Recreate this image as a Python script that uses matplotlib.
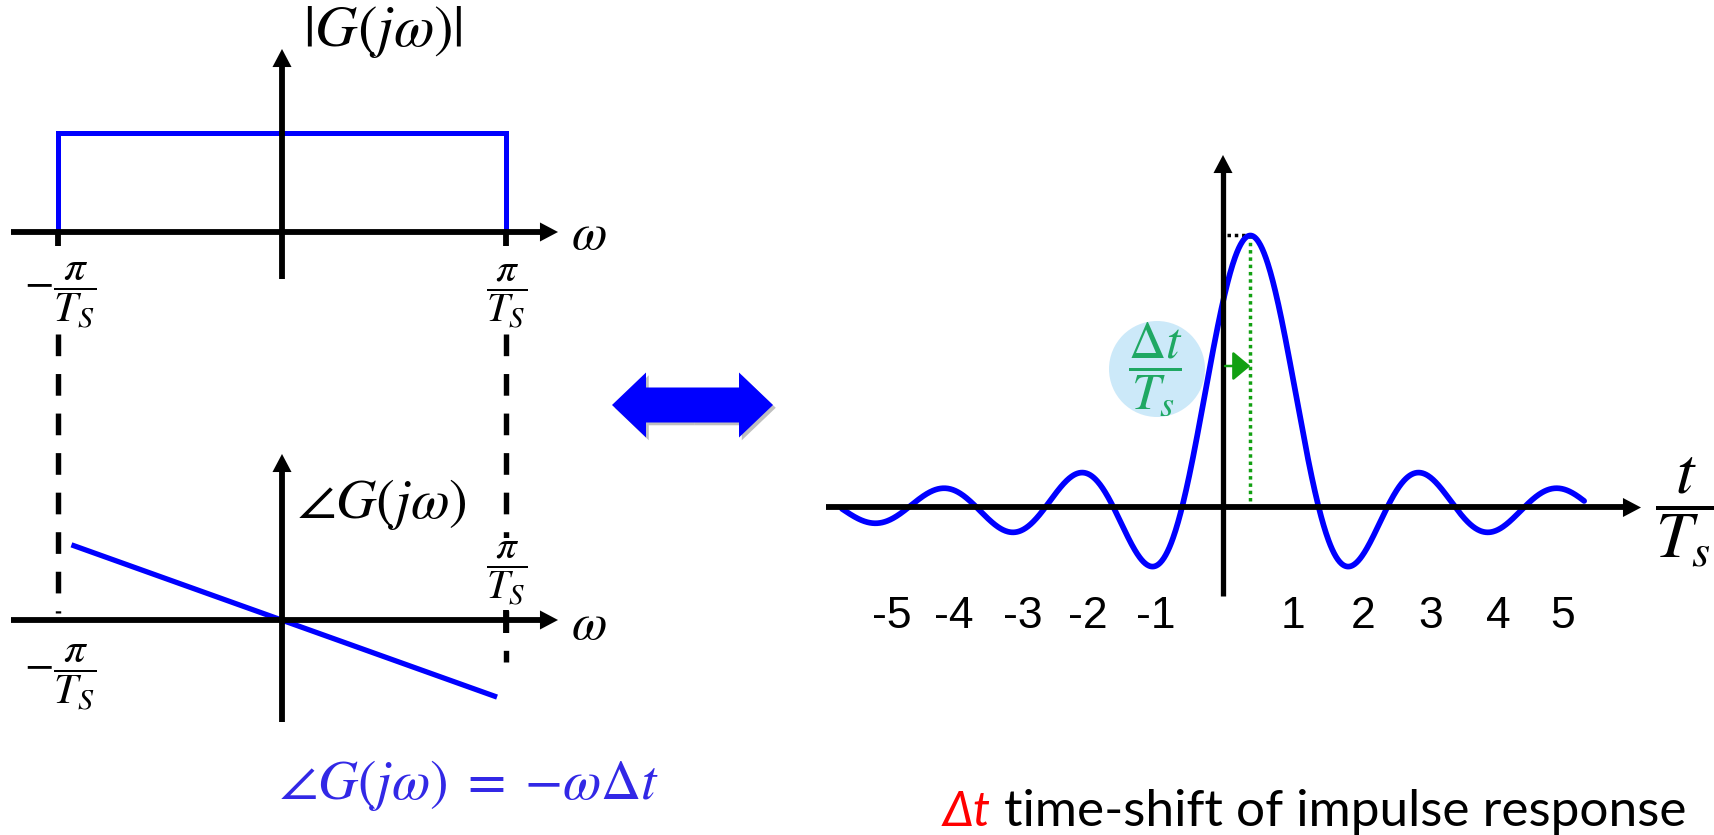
import numpy as np
import matplotlib
matplotlib.use('Agg')
import matplotlib.pyplot as plt
from matplotlib.patches import Ellipse, FancyArrow
import matplotlib.patheffects as pe

plt.rcParams['mathtext.fontset'] = 'stix'
plt.rcParams['font.family'] = ['Liberation Sans', 'DejaVu Sans']

# ---------------- data ----------------
band_edges = [-1.0, 1.0]          # passband edges, omega in units of pi/Ts
mag_level = 1.0                   # |G(jw)| inside the passband
phase_omega = [-0.94, 0.96]       # omega at the two ends of the phase line (pi/Ts)
phase_value = [1.18, -1.21]       # phase (rad) at those ends
delay = 0.4                       # time shift  Δt / Ts
t_start, t_end = -5.57, 5.28      # drawn extent of the impulse response (t/Ts)
tick_values = [-4.84, -3.93, -2.92, -1.97, -0.98, 1.02, 2.05, 3.04, 4.03, 4.96]
tick_labels = ['-5', '-4', '-3', '-2', '-1', '1', '2', '3', '4', '5']

BLUE = '#0000ff'
FBLUE = '#3228e6'
GREEN = '#12a012'
TGREEN = '#1fa863'

W, H, DPI = 1715, 835, 100
fig = plt.figure(figsize=(W / DPI, H / DPI), dpi=DPI)
fig.patch.set_facecolor('white')


def make_axes(box, xref, yref, z=1):
    l, t, r, b = box
    ax = fig.add_axes([l / W, 1 - b / H, (r - l) / W, (b - t) / H], zorder=z)
    d0, p0, d1, p1 = xref
    sx = (d1 - d0) / (p1 - p0)
    ax.set_xlim(d0 + (l - p0) * sx, d0 + (r - p0) * sx)
    d0, p0, d1, p1 = yref
    sy = (d1 - d0) / (p1 - p0)
    ax.set_ylim(d0 + (b - p0) * sy, d0 + (t - p0) * sy)
    ax.axis('off')
    ax.patch.set_visible(False)
    return ax


def axis_arrow(ax, start, tip, lw=4.2, head_len=18, head_w=19, color='k'):
    trans = ax.transData
    s = np.array(trans.transform(start))
    e = np.array(trans.transform(tip))
    d = (e - s) / np.linalg.norm(e - s)
    base = trans.inverted().transform(e - d * (head_len - 1))
    ax.plot([start[0], base[0]], [start[1], base[1]], color=color, lw=lw,
            solid_capstyle='butt', zorder=5, clip_on=False)
    ms = 10.0
    ax.annotate('', xy=tip, xytext=start,
                arrowprops=dict(arrowstyle='-|>,head_length=%.3f,head_width=%.3f'
                                % (head_len * 72 / DPI / ms, head_w / 2 * 72 / DPI / ms),
                                mutation_scale=ms, lw=0.01, fc=color, ec=color,
                                shrinkA=0, shrinkB=0), zorder=5)


def fit_width(txt, target, extra=1.0):
    r = fig.canvas.get_renderer()
    for _ in range(3):
        w = txt.get_window_extent(r).width
        txt.set_fontsize(txt.get_fontsize() * target / w)
    txt.set_fontsize(txt.get_fontsize() * extra)


# ---------------- top-left: magnitude ----------------
X0, XU = 282.0, 224.0            # pixel of omega=0 and pixels per pi/Ts
ax1 = make_axes((0, 0, 640, 320), (0, X0, 1, X0 + XU), (0, 232, 1, 133))
ax1.plot([band_edges[0], band_edges[0], band_edges[1], band_edges[1]],
         [0, mag_level, mag_level, 0], color=BLUE, lw=3.6, zorder=3,
         solid_joinstyle='miter')
axis_arrow(ax1, ((11 - X0) / XU, 0), ((558 - X0) / XU, 0))
axis_arrow(ax1, (0, (232 - 279) / 99), (0, (232 - 49) / 99))
for e in band_edges:
    ax1.plot([e, e], [0, -14 / 99], color='k', lw=4.2, solid_capstyle='butt', zorder=5)
t = ax1.text((303 - X0) / XU, (232 - 32) / 99, r'$|G(j\omega)|$', fontsize=30,
             ha='left', va='center')
fit_width(t, 160)
ax1.text((571 - X0) / XU, (232 - 236) / 99, r'$\omega$', fontsize=37, ha='left', va='center')
t = ax1.text((60 - X0) / XU, (232 - 296) / 99, r'$-\dfrac{\pi}{T_S}$', fontsize=24,
             ha='center', va='center')
fit_width(t, 63, 1.15)
t = ax1.text((507 - X0) / XU, (232 - 296) / 99, r'$\dfrac{\pi}{T_S}$', fontsize=24,
             ha='center', va='center')
fit_width(t, 36, 1.15)

# ---------------- bottom-left: phase ----------------
Y0, YU = 620.0, 63.7             # pixel of phase=0 and pixels per rad
ax2 = make_axes((0, 320, 640, 835), (0, X0, 1, X0 + XU), (0, Y0, 1, Y0 - YU))
ax2.plot(phase_omega, phase_value, color=BLUE, lw=3.8, zorder=3, solid_capstyle='butt')
axis_arrow(ax2, ((11 - X0) / XU, 0), ((558 - X0) / XU, 0))
axis_arrow(ax2, (0, (Y0 - 722) / YU), (0, (Y0 - 454) / YU))
dash = (4.0, 3.3)
ax2.plot([band_edges[0]] * 2, [(Y0 - 334) / YU, (Y0 - 613) / YU], color='k', lw=3.9,
         dashes=dash, zorder=2)
ax2.plot([band_edges[1]] * 2, [(Y0 - 334) / YU, (Y0 - 662) / YU], color='k', lw=3.9,
         dashes=dash, zorder=2)
ax2.plot([band_edges[1]] * 2, [(Y0 - 610) / YU, (Y0 - 633) / YU], color='k', lw=4.2,
         solid_capstyle='butt', zorder=5)
t = ax2.text((297 - X0) / XU, (Y0 - 505) / YU, r'$\angle G(j\omega)$', fontsize=28,
             ha='left', va='center')
fit_width(t, 170)
ax2.text((571 - X0) / XU, (Y0 - 626) / YU, r'$\omega$', fontsize=37, ha='left', va='center')
t = ax2.text((60 - X0) / XU, (Y0 - 678) / YU, r'$-\dfrac{\pi}{T_S}$', fontsize=24,
             ha='center', va='center')
fit_width(t, 63, 1.15)
t = ax2.text((507 - X0) / XU, (Y0 - 573) / YU, r'$\dfrac{\pi}{T_S}$', fontsize=24,
             ha='center', va='center', zorder=4,
             bbox=dict(facecolor='white', edgecolor='none', pad=1))
fit_width(t, 36, 1.15)
t = ax2.text((279 - X0) / XU, (Y0 - 785) / YU,
             r'$\angle G(j\omega)\;=\;{-}\omega\Delta t$',
             fontsize=28, ha='left', va='center', color=FBLUE)
fit_width(t, 381)

# ---------------- right: impulse response ----------------
T0, TU = 1223.0, 68.4            # pixel of t=0 and pixels per Ts
A0, AU = 507.5, 272.0            # pixel of h=0 and pixels per unit amplitude
ax3 = make_axes((760, 130, 1715, 700), (0, T0, 1, T0 + TU), (0, A0, 1, A0 - AU), z=3)
tt = np.linspace(t_start, t_end, 1200)
hh = np.sinc(tt - delay)
ax3.plot(tt, hh, color=BLUE, lw=4.1, zorder=4, solid_capstyle='round')
axis_arrow(ax3, ((826 - T0) / TU, 0), ((1641 - T0) / TU, 0))
axis_arrow(ax3, (0, (A0 - 596) / AU), (0, (A0 - 155) / AU), lw=3.8)
ax3.add_patch(Ellipse(((1157 - T0) / TU, (A0 - 369) / AU), 96 / TU, 96 / AU,
                      facecolor='#cce9f9', edgecolor='none', zorder=1))
t = ax3.text((1155 - T0) / TU, (A0 - 369) / AU, r'$\dfrac{\Delta t}{T_s}$', fontsize=24,
             ha='center', va='center', color=TGREEN, zorder=2)
fit_width(t, 45, 1.22)
peak = np.sinc(0.0)
ax3.plot([delay, delay], [peak, 0], color=GREEN, lw=2.5, dashes=(1, 1.1), zorder=3)
ax3.plot([0.06, delay], [peak, peak], color='k', lw=2.5, dashes=(1, 1.1), zorder=3)
ax3.annotate('', xy=(delay, (A0 - 366) / AU), xytext=(0.03, (A0 - 366) / AU),
             arrowprops=dict(arrowstyle='-|>,head_length=1.08,head_width=0.9',
                             mutation_scale=10, lw=1.8, color=GREEN,
                             shrinkA=0, shrinkB=0), zorder=6)
for v, s in zip(tick_values, tick_labels):
    ax3.text(v, (A0 - 616) / AU, s, fontsize=32, ha='center', va='center')
t = ax3.text((1685 - T0) / TU, (A0 - 512) / AU, r'$\dfrac{t}{T_s}$', fontsize=32,
             ha='center', va='center')
fit_width(t, 48, 1.26)

# ---------------- decorations (pixel overlay) ----------------
axo = fig.add_axes([0, 0, 1, 1], zorder=0)
axo.set_xlim(0, W)
axo.set_ylim(H, 0)
axo.axis('off')
axo.patch.set_visible(False)
shadow = [pe.SimplePatchShadow(offset=(2, -2), shadow_rgbFace='#808080', alpha=0.5),
          pe.Normal()]
for dx in (-80, 81):
    axo.add_patch(FancyArrow(692, 405, dx, 0, width=35, head_width=65, head_length=34,
                             length_includes_head=True, color=BLUE, lw=0,
                             path_effects=shadow))
t = axo.text(943, 812, 'Δt', fontsize=32, color='red', ha='left', va='center',
             family=['Lato', 'DejaVu Sans'], style='italic')
fit_width(t, 48)
t = axo.text(1004, 812, 'time-shift of impulse response', fontsize=28, ha='left',
             va='center', family=['Lato', 'DejaVu Sans'])
fit_width(t, 683)

fig.savefig('out.png', dpi=DPI, facecolor='white')
